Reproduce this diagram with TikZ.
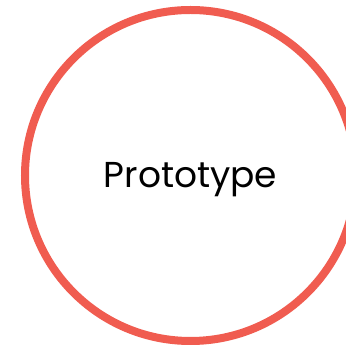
\documentclass[tikz,border=0pt]{standalone}
\usepackage{fontspec}
\setmainfont{Poppins}
\usepackage{tikz}
\usetikzlibrary{positioning}
\definecolor{ringred}{RGB}{240,92,80}
\tikzset{ring/.style={circle, draw=ringred, line width=8pt, minimum size=331pt, inner sep=0pt}}

\begin{document}
\begin{tikzpicture}[x=1pt,y=1pt]
          \useasboundingbox (0,0) rectangle (346,345);
          \clip (0,0) rectangle (346,345);
          % ring with its label
          \node[ring] (proto) at (190.5,169.5) {};
          \node[anchor=base, font=\fontsize{36}{42}\selectfont] (label) at (190.5,157) {Prototype};
        \end{tikzpicture}
\end{document}
